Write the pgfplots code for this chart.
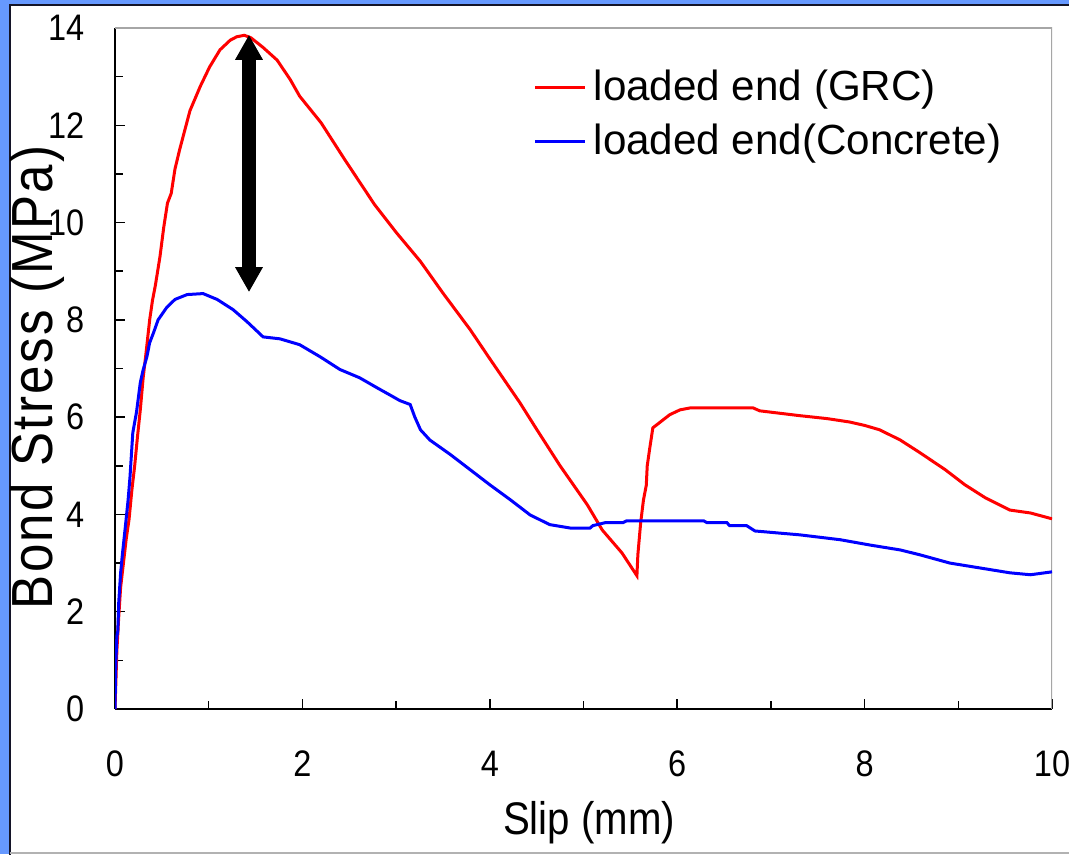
\documentclass[border=0pt]{standalone}
\usepackage{fontspec}
\setmainfont{Liberation Sans}
\newfontfamily\narrowfont[FakeStretch=0.88]{Liberation Sans}
\newfontfamily\ylabfont[FakeStretch=0.88, LetterSpace=4]{Liberation Sans}
\usepackage{pgfplots}
\pgfplotsset{compat=1.18}
\usetikzlibrary{arrows.meta}
\definecolor{frameblue}{RGB}{102,153,255}
\definecolor{framedark}{RGB}{20,20,40}

\begin{document}
\begin{tikzpicture}
\useasboundingbox (0,0) rectangle (106.9mm,85.4mm);
\fill[frameblue] (0,0) rectangle (106.9mm,85.4mm);
\fill[white] (0.95mm,-1mm) rectangle (110mm,84.85mm);
\draw[framedark, line width=0.2mm] (0.95mm,-1mm) -- (0.95mm,84.85mm) -- (110mm,84.85mm);
\draw[gray!60, line width=0.2mm] (0.95mm,0.1mm) -- (110mm,0.1mm);

\begin{axis}[
  at={(11.5mm,14.5mm)}, anchor=south west,
  scale only axis, width=93.7mm, height=68.1mm,
  xmin=0, xmax=10, ymin=0, ymax=14,
  xtick={0,2,...,10}, ytick={0,2,...,14},
  minor x tick num=1, minor y tick num=1,
  axis x line*=bottom, axis y line*=left,
  axis line style={black, line width=0.2mm, -},
  tick align=inside,
  major tick length=1mm, minor tick length=0.8mm,
  every tick/.style={black, line width=0.15mm},
  /pgf/number format/assume math mode=true,
  tick label style={font=\narrowfont\fontsize{10.5}{12}\selectfont},
  xticklabel style={anchor=north, inner sep=0pt, yshift=-4.1mm},
  yticklabel style={anchor=east, inner sep=0pt, xshift=-3mm},
  xlabel={Slip (mm)},
  ylabel={Bond Stress (MPa)},
  xlabel style={font=\narrowfont\fontsize{13}{15}\selectfont, at={(axis description cs:0.506,-0.185)}, anchor=base},
  ylabel style={font=\ylabfont\fontsize{16.5}{18}\selectfont, at={(axis description cs:-0.067,0.487)}, anchor=base},
  legend style={draw=none, fill=none, at={(axis description cs:0.446,0.95)}, anchor=north west,
    font=\fontsize{12}{14}\selectfont, inner sep=0pt, row sep=0.4mm},
  legend cell align=left,
  legend image code/.code={\draw[#1] (0mm,0mm) -- (5mm,0mm);},
]
\draw[gray!70, line width=0.2mm] (rel axis cs:0,1) -- (rel axis cs:1,1) -- (rel axis cs:1,0);

\addplot[red, line width=0.3mm] coordinates {
(0,0)(0.01,0.6)(0.02,1.2)(0.04,1.9)(0.06,2.5)(0.09,3.0)(0.12,3.5)(0.15,3.9)(0.18,4.5)
(0.21,5.0)(0.24,5.6)(0.27,6.15)(0.3,6.8)(0.33,7.3)(0.37,8.0)(0.40,8.4)(0.43,8.7)(0.48,9.3)
(0.52,9.9)(0.56,10.4)(0.60,10.6)(0.64,11.1)(0.69,11.5)(0.8,12.3)(0.91,12.8)(1.01,13.2)
(1.12,13.55)(1.23,13.75)(1.3,13.82)(1.38,13.85)(1.45,13.8)(1.58,13.6)(1.73,13.34)
(1.87,12.94)(1.97,12.6)(2.2,12.05)(2.45,11.3)(2.77,10.37)(3.0,9.8)(3.26,9.2)(3.5,8.55)
(3.79,7.8)(4.0,7.2)(4.32,6.3)(4.5,5.75)(4.75,5.0)(5.04,4.2)(5.2,3.68)(5.41,3.21)(5.57,2.74)
(5.58,3.17)(5.61,3.83)(5.64,4.3)(5.67,4.6)(5.68,5.0)(5.71,5.4)(5.74,5.78)(5.82,5.9)
(5.92,6.05)(6.03,6.15)(6.14,6.19)(6.81,6.19)(6.88,6.13)(7.31,6.03)(7.6,5.97)(7.84,5.9)
(8.0,5.83)(8.16,5.74)(8.38,5.53)(8.59,5.27)(8.86,4.92)(9.07,4.61)(9.29,4.34)(9.55,4.09)
(9.77,4.03)(10,3.91)
};
\addlegendentry{loaded end (GRC)}

\addplot[blue, line width=0.3mm] coordinates {
(0,0)(0.005,0.6)(0.01,1.0)(0.02,1.5)(0.03,1.6)(0.04,2.2)(0.06,2.8)(0.08,3.2)(0.11,3.74)
(0.14,4.3)(0.16,4.77)(0.19,5.68)(0.23,6.11)(0.27,6.71)(0.3,6.97)(0.34,7.24)(0.37,7.53)
(0.41,7.73)(0.46,8.0)(0.55,8.25)(0.64,8.42)(0.77,8.52)(0.94,8.54)(1.09,8.42)(1.26,8.21)
(1.41,7.96)(1.52,7.76)(1.58,7.65)(1.76,7.61)(1.97,7.49)(2.19,7.24)(2.4,6.98)(2.61,6.81)
(2.8,6.6)(2.93,6.46)(3.04,6.34)(3.15,6.26)(3.2,6.0)(3.26,5.74)(3.36,5.53)(3.58,5.23)
(3.79,4.92)(4.0,4.61)(4.22,4.3)(4.43,3.99)(4.64,3.79)(4.86,3.72)(5.07,3.72)(5.1,3.77)
(5.23,3.83)(5.42,3.83)(5.46,3.87)(6.28,3.87)(6.32,3.83)(6.53,3.83)(6.56,3.77)(6.74,3.77)
(6.83,3.66)(7.31,3.58)(7.74,3.48)(8.06,3.37)(8.38,3.27)(8.59,3.17)(8.91,3.0)(9.23,2.9)
(9.55,2.8)(9.77,2.76)(10,2.82)
};
\addlegendentry{loaded end(Concrete)}

% double arrow marking the drop in peak stress
\draw[line width=1.4mm, {Triangle[width=2.6mm,length=2.5mm]}-{Triangle[width=2.6mm,length=2.5mm]}]
  (axis cs:1.43,8.57) -- (axis cs:1.43,13.86);
\end{axis}
\end{tikzpicture}
\end{document}
